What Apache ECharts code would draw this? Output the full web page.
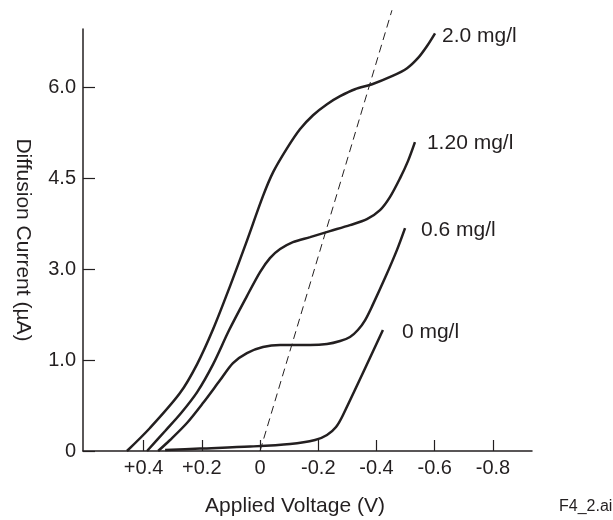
<!DOCTYPE html>
<html>
<head>
<meta charset="utf-8">
<script src="https://cdn.jsdelivr.net/npm/echarts@6/dist/echarts.min.js"></script>
<style>
  html, body { margin: 0; padding: 0; background: #fff; }
  #chart { width: 613px; height: 520px; }
</style>
</head>
<body>
<div id="chart"></div>
<script>
// y values are in tick-slot units: slot k sits at yTickLabels[k]
var yTickLabels = ['0', '1.0', '3.0', '4.5', '6.0'];
var xTickValues = [0.4, 0.2, 0, -0.2, -0.4, -0.6, -0.8];

var volt20 = [0.457, 0.378, 0.275, 0.216, 0.161, 0.103, 0.048, -0.010, -0.045, -0.093, -0.137, -0.182, -0.230, -0.275, -0.326, -0.385, -0.453, -0.505, -0.542, -0.573, -0.601];
var curr20 = [0, 0.253, 0.637, 0.956, 1.341, 1.813, 2.286, 2.802, 3.066, 3.330, 3.538, 3.692, 3.813, 3.901, 3.978, 4.033, 4.121, 4.209, 4.319, 4.451, 4.593];

var volt12 = [0.388, 0.326, 0.271, 0.216, 0.161, 0.106, 0.045, 0, -0.034, -0.069, -0.113, -0.172, -0.240, -0.309, -0.367, -0.412, -0.446, -0.481, -0.508, -0.532];
var curr12 = [0, 0.220, 0.418, 0.648, 0.956, 1.330, 1.703, 1.967, 2.121, 2.220, 2.297, 2.352, 2.418, 2.484, 2.549, 2.648, 2.791, 3.000, 3.187, 3.396];

var volt06 = [0.350, 0.309, 0.251, 0.196, 0.137, 0.093, 0.045, -0.010, -0.069, -0.172, -0.230, -0.275, -0.309, -0.336, -0.361, -0.385, -0.429, -0.470, -0.498];
var curr06 = [0, 0.121, 0.308, 0.527, 0.780, 0.967, 1.077, 1.143, 1.165, 1.165, 1.176, 1.209, 1.253, 1.330, 1.440, 1.593, 1.901, 2.209, 2.451];

var volt00 = [0.326, 0.206, 0.034, -0.103, -0.189, -0.230, -0.261, -0.285, -0.422];
var curr00 = [0.011, 0.027, 0.049, 0.077, 0.121, 0.176, 0.264, 0.396, 1.330];

var voltDash = [0, -0.453];
var currDash = [0, 4.846];

var ink = '#231f20';

function pairs(xs, ys) {
    return xs.map(function (x, i) { return [x, ys[i]]; });
}

function curve(name, xs, ys, dx, dy) {
    return {
        name: name,
        type: 'line',
        smooth: 0.3,
        showSymbol: false,
        clip: false,
        lineStyle: { color: ink, width: 2.5 },
        endLabel: {
            show: true,
            formatter: '{a}',
            align: 'left',
            distance: 0,
            offset: [dx, dy],
            color: ink,
            fontFamily: 'Liberation Sans',
            fontSize: 21
        },
        data: pairs(xs, ys)
    };
}

var chart = echarts.init(document.getElementById('chart'), null, { renderer: 'canvas' });

var option = {
    animation: false,
    backgroundColor: '#fff',
    grid: { left: 83, right: 81, top: 29, bottom: 69, outerBoundsMode: 'none' },
    xAxis: {
        type: 'value',
        inverse: true,
        min: -0.934,
        max: 0.608,
        name: 'Applied Voltage (V)',
        nameLocation: 'middle',
        nameGap: 45,
        nameTextStyle: { color: ink, fontFamily: 'Liberation Sans', fontSize: 21, padding: [0, 25, 0, 0] },
        axisLine: { onZero: false, lineStyle: { color: ink, width: 1.5 } },
        // negative length puts the ticks above the axis line, as in the original
        axisTick: { inside: false, length: -11, customValues: xTickValues, lineStyle: { color: ink, width: 1.2 } },
        axisLabel: {
            customValues: xTickValues,
            margin: 7,
            color: ink,
            fontFamily: 'Liberation Sans',
            fontSize: 20,
            formatter: function (v) {
                if (Math.abs(v) < 1e-9) return '0';
                return v > 0 ? '+' + v.toFixed(1) : v.toFixed(1);
            }
        },
        splitLine: { show: false }
    },
    yAxis: {
        type: 'value',
        min: 0,
        max: 4.64,
        name: 'Diffusion Current (\u00b5A)',
        nameLocation: 'middle',
        nameRotate: -90,
        nameGap: 50,
        nameTextStyle: { color: ink, fontFamily: 'Liberation Sans', fontSize: 21 },
        axisLine: { show: true, onZero: false, lineStyle: { color: ink, width: 1.5 } },
        axisTick: { show: true, inside: false, length: -12, customValues: [0, 1, 2, 3, 4], lineStyle: { color: ink, width: 1.2 } },
        axisLabel: {
            customValues: [0, 1, 2, 3, 4],
            margin: 7,
            color: ink,
            fontFamily: 'Liberation Sans',
            fontSize: 20,
            formatter: function (v) { return yTickLabels[Math.round(v)]; }
        },
        splitLine: { show: false }
    },
    graphic: [{
        type: 'text',
        left: 559,
        top: 499,
        style: { text: 'F4_2.ai', fill: ink, font: '16px "Liberation Sans"' }
    }],
    series: [
        curve('2.0 mg/l', volt20, curr20, 7, 3),
        curve('1.20 mg/l', volt12, curr12, 12, 1),
        curve('0.6 mg/l', volt06, curr06, 16, 2),
        curve('0 mg/l', volt00, curr00, 19, 2),
        {
            name: 'dash',
            type: 'line',
            showSymbol: false,
            clip: false,
            lineStyle: { color: ink, width: 1, type: [8, 5] },
            data: pairs(voltDash, currDash)
        }
    ]
};

chart.setOption(option);
</script>
</body>
</html>
